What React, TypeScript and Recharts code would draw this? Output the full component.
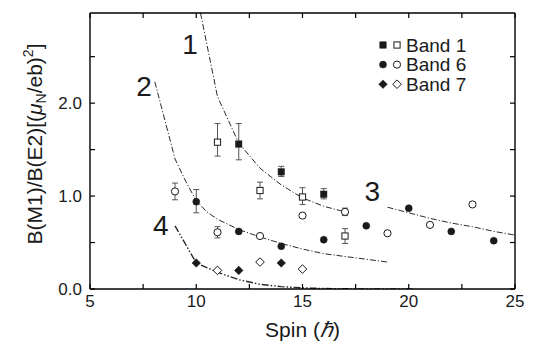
import {
  ComposedChart,
  Line,
  Scatter,
  ErrorBar,
  XAxis,
  YAxis,
  Legend,
  ReferenceDot,
} from "recharts";

const FONT = "'Liberation Sans', Arial, Helvetica, sans-serif";
const INK = "#1a1a1a";

const X_TICKS = [5, 7.5, 10, 12.5, 15, 17.5, 20, 22.5, 25];
const Y_TICKS = [0, 0.5, 1, 1.5, 2, 2.5];

// measured points, err = [down, up]
const band1Filled = [
  { x: 12, y: 1.56, err: [0.17, 0.22] },
  { x: 14, y: 1.26, err: [0.05, 0.06] },
  { x: 16, y: 1.02, err: [0.05, 0.06] },
];
const band1Open = [
  { x: 11, y: 1.58, err: [0.15, 0.2] },
  { x: 13, y: 1.06, err: [0.09, 0.09] },
  { x: 15, y: 0.99, err: [0.08, 0.1] },
  { x: 17, y: 0.57, err: [0.08, 0.08] },
];
const band6Filled = [
  { x: 10, y: 0.94, err: [0.12, 0.13] },
  { x: 12, y: 0.62 },
  { x: 14, y: 0.46 },
  { x: 16, y: 0.53 },
  { x: 18, y: 0.68 },
  { x: 20, y: 0.87 },
  { x: 22, y: 0.62 },
  { x: 24, y: 0.52 },
];
const band6Open = [
  { x: 9, y: 1.05, err: [0.09, 0.09] },
  { x: 11, y: 0.61, err: [0.06, 0.06] },
  { x: 13, y: 0.57 },
  { x: 15, y: 0.79 },
  { x: 17, y: 0.83, err: [0.04, 0.04] },
  { x: 19, y: 0.6 },
  { x: 21, y: 0.69 },
  { x: 23, y: 0.91 },
];
const band7Filled = [
  { x: 10, y: 0.28 },
  { x: 12, y: 0.2 },
  { x: 14, y: 0.28 },
];
const band7Open = [
  { x: 11, y: 0.2 },
  { x: 13, y: 0.29 },
  { x: 15, y: 0.215 },
];

// calculated curves
const curve1 = [
  { x: 10.2, y: 2.97 },
  { x: 11, y: 2.07 },
  { x: 12, y: 1.57 },
  { x: 13, y: 1.3 },
  { x: 14, y: 1.12 },
  { x: 15, y: 0.98 },
  { x: 16, y: 0.89 },
  { x: 17, y: 0.83 },
];
const curve2 = [
  { x: 8.05, y: 2.23 },
  { x: 9, y: 1.4 },
  { x: 9.5, y: 1.16 },
  { x: 10, y: 0.95 },
  { x: 10.5, y: 0.83 },
  { x: 11, y: 0.75 },
  { x: 12, y: 0.64 },
  { x: 13, y: 0.56 },
  { x: 14, y: 0.49 },
  { x: 15, y: 0.43 },
  { x: 16, y: 0.38 },
  { x: 17, y: 0.35 },
  { x: 18, y: 0.32 },
  { x: 19, y: 0.29 },
];
const curve3 = [
  { x: 19, y: 0.88 },
  { x: 20, y: 0.82 },
  { x: 21, y: 0.76 },
  { x: 22, y: 0.71 },
  { x: 23, y: 0.67 },
  { x: 24, y: 0.62 },
  { x: 25, y: 0.58 },
];
const curve4 = [
  { x: 9, y: 0.68 },
  { x: 10, y: 0.28 },
  { x: 11, y: 0.18 },
  { x: 12, y: 0.1 },
  { x: 13, y: 0.05 },
  { x: 14, y: 0.025 },
  { x: 15, y: 0.012 },
  { x: 16, y: 0.005 },
  { x: 18, y: 0 },
  { x: 20.2, y: 0 },
];

const curveLabels = [
  { name: "1", x: 9.71, y: 2.64 },
  { name: "2", x: 7.54, y: 2.18 },
  { name: "3", x: 18.29, y: 1.05 },
  { name: "4", x: 8.33, y: 0.69 },
];

const legendRows = [
  { name: "Band 1", shape: "square" },
  { name: "Band 6", shape: "circle" },
  { name: "Band 7", shape: "diamond" },
];

function Marker({ cx, cy, kind, filled }: any) {
  const fill = filled ? INK : "#fff";
  const stroke = INK;
  if (kind === "square") {
    const s = filled ? 6.4 : 6.2;
    return <rect x={cx - s / 2} y={cy - s / 2} width={s} height={s} fill={fill} stroke={stroke} strokeWidth={filled ? 0.5 : 1} />;
  }
  if (kind === "diamond") {
    const r = 4.3;
    const d = `M${cx},${cy - r}L${cx + r},${cy}L${cx},${cy + r}L${cx - r},${cy}Z`;
    return <path d={d} fill={fill} stroke={stroke} strokeWidth={filled ? 0.5 : 1} />;
  }
  return <circle cx={cx} cy={cy} r={filled ? 3.5 : 3.6} fill={fill} stroke={stroke} strokeWidth={filled ? 0.5 : 1} />;
}

const shapeOf = (kind: string, filled: boolean) => (props: any) =>
  <Marker cx={props.cx} cy={props.cy} kind={kind} filled={filled} />;

function BottomTick({ x, y, payload }: any) {
  const v = payload.value;
  const show = v % 5 === 0;
  return (
    <g>
      <line x1={x} y1={y} x2={x} y2={y - 5} stroke="#000" strokeWidth={1.2} />
      {show && (
        <text x={x} y={y + 18} textAnchor="middle" fontSize={17} fontFamily={FONT} fill={INK}>
          {v}
        </text>
      )}
    </g>
  );
}

function TopTick({ x, y }: any) {
  return <line x1={x} y1={y} x2={x} y2={y + 5} stroke="#000" strokeWidth={1.2} />;
}

function LeftTick({ x, y, payload }: any) {
  const v = payload.value;
  const show = Number.isInteger(v);
  return (
    <g>
      <line x1={x} y1={y} x2={x + 5} y2={y} stroke="#000" strokeWidth={1.2} />
      {show && (
        <text x={x - 8} y={y + 6} textAnchor="end" fontSize={17} fontFamily={FONT} fill={INK}>
          {v.toFixed(1)}
        </text>
      )}
    </g>
  );
}

function RightTick({ x, y }: any) {
  return <line x1={x} y1={y} x2={x - 5} y2={y} stroke="#000" strokeWidth={1.2} />;
}

function YLabel({ viewBox }: any) {
  const x = viewBox.x + 42;
  const y = viewBox.y + viewBox.height / 2 - 7;
  return (
    <text
      transform={`translate(${x},${y}) rotate(-90)`}
      textAnchor="middle"
      fontSize={21}
      fontFamily={FONT}
      fill={INK}
    >
      B(M1)/B(E2)[(
      <tspan fontStyle="italic">μ</tspan>
      <tspan fontSize={14} dy={4}>N</tspan>
      <tspan dy={-4}>/eb)</tspan>
      <tspan fontSize={14} dy={-9}>2</tspan>
      <tspan dy={9}>]</tspan>
    </text>
  );
}

function XLabel({ viewBox }: any) {
  const x = viewBox.x + viewBox.width / 2;
  const y = viewBox.y + 48;
  return (
    <text x={x} y={y} textAnchor="middle" fontSize={21} fontFamily={FONT} fill={INK}>
      Spin (<tspan fontStyle="italic">ℏ</tspan>)
    </text>
  );
}

function LegendBox() {
  return (
    <svg width={140} height={64} style={{ display: "block" }}>
      {legendRows.map((r, i) => {
        const cy = 10 + i * 19.6;
        return (
          <g key={r.name}>
            <Marker cx={8} cy={cy} kind={r.shape} filled />
            <Marker cx={22} cy={cy} kind={r.shape} filled={false} />
            <text x={31} y={cy + 6.5} fontSize={19} fontFamily={FONT} fill={INK}>
              {r.name}
            </text>
          </g>
        );
      })}
    </svg>
  );
}

const lineStyle = {
  stroke: "#2a2a2a",
  strokeWidth: 1,
  strokeDasharray: "6 2 1.2 2",
  dot: false,
  activeDot: false,
  isAnimationActive: false,
  type: "linear" as const,
};

export default function App() {
  return (
    <div style={{ position: "absolute", left: 0, top: 0, background: "#fff" }}>
      <ComposedChart width={540} height={348} margin={{ top: 12, right: 24, bottom: 0, left: 0 }}>
        <XAxis
          dataKey="x"
          type="number"
          domain={[5, 25]}
          ticks={X_TICKS}
          allowDataOverflow
          height={59}
          tickSize={0}
          tickMargin={0}
          tick={<BottomTick />}
          axisLine={{ stroke: "#000", strokeWidth: 1.4 }}
          label={<XLabel />}
        />
        <XAxis
          xAxisId="top"
          dataKey="x"
          orientation="top"
          type="number"
          domain={[5, 25]}
          ticks={X_TICKS}
          allowDataOverflow
          height={1}
          tickSize={0}
          tickMargin={0}
          tick={<TopTick />}
          axisLine={{ stroke: "#000", strokeWidth: 1.4 }}
        />
        <YAxis
          dataKey="y"
          type="number"
          domain={[0, 2.97]}
          ticks={Y_TICKS}
          allowDataOverflow
          width={90}
          tickSize={0}
          tickMargin={0}
          tick={<LeftTick />}
          axisLine={{ stroke: "#000", strokeWidth: 1.4 }}
          label={<YLabel />}
        />
        <YAxis
          yAxisId="right"
          dataKey="y"
          orientation="right"
          type="number"
          domain={[0, 2.97]}
          ticks={Y_TICKS}
          allowDataOverflow
          width={1}
          tickSize={0}
          tickMargin={0}
          tick={<RightTick />}
          axisLine={{ stroke: "#000", strokeWidth: 1.4 }}
        />

        <Line data={curve1} dataKey="y" {...lineStyle} />
        <Line data={curve2} dataKey="y" {...lineStyle} />
        {/* same domains as the bottom/left axes, so this also anchors the mirrored frame */}
        <Line data={curve3} dataKey="y" xAxisId="top" yAxisId="right" {...lineStyle} />
        <Line data={curve4} dataKey="y" {...lineStyle} strokeWidth={1.4} strokeDasharray="7 2 1.5 2 1.5 2" />

        <Scatter data={band1Filled} dataKey="y" shape={shapeOf("square", true)} isAnimationActive={false}>
          <ErrorBar dataKey="err" direction="y" width={3} stroke="#555" strokeWidth={1} />
        </Scatter>
        <Scatter data={band1Open} dataKey="y" shape={shapeOf("square", false)} isAnimationActive={false}>
          <ErrorBar dataKey="err" direction="y" width={3} stroke="#555" strokeWidth={1} />
        </Scatter>
        <Scatter data={band6Filled} dataKey="y" shape={shapeOf("circle", true)} isAnimationActive={false}>
          <ErrorBar dataKey="err" direction="y" width={3} stroke="#555" strokeWidth={1} />
        </Scatter>
        <Scatter data={band6Open} dataKey="y" shape={shapeOf("circle", false)} isAnimationActive={false}>
          <ErrorBar dataKey="err" direction="y" width={3} stroke="#555" strokeWidth={1} />
        </Scatter>
        <Scatter data={band7Filled} dataKey="y" shape={shapeOf("diamond", true)} isAnimationActive={false} />
        <Scatter data={band7Open} dataKey="y" shape={shapeOf("diamond", false)} isAnimationActive={false} />

        {curveLabels.map((c) => (
          <ReferenceDot
            key={c.name}
            x={c.x}
            y={c.y}
            r={0}
            fill="none"
            stroke="none"
            label={{ value: c.name, position: "center", fontSize: 28, fill: INK, fontFamily: FONT }}
          />
        ))}

        <Legend
          layout="vertical"
          align="center"
          verticalAlign="middle"
          content={<LegendBox />}
          wrapperStyle={{ left: 375, top: 35, width: 140 }}
        />
      </ComposedChart>
    </div>
  );
}
